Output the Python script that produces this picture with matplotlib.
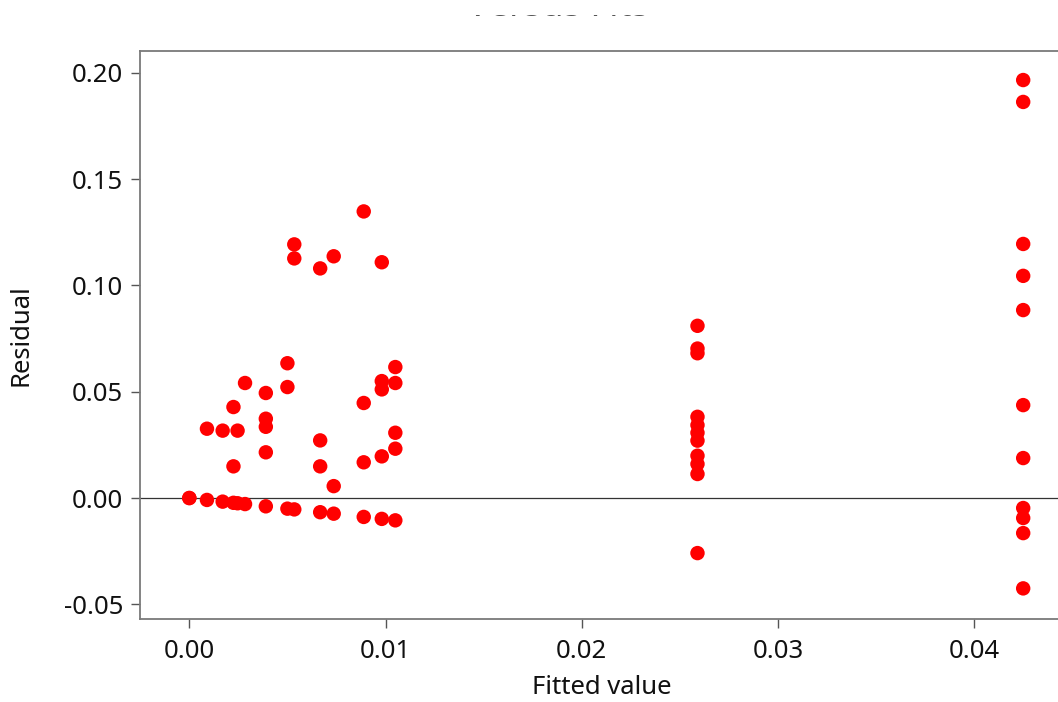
import matplotlib
matplotlib.use("Agg")
import matplotlib.pyplot as plt

plt.rcParams["font.family"] = ["Noto Sans", "DejaVu Sans"]

# Fitted values (one entry per observation) and their residuals
fitted = [
    0.0000, 0.0000,
    0.0009, 0.0009,
    0.0017, 0.0017,
    0.00225, 0.00225, 0.00225,
    0.00246, 0.00246,
    0.00284, 0.00284,
    0.0039, 0.0039, 0.0039, 0.0039, 0.0039,
    0.0050, 0.0050, 0.0050,
    0.00535, 0.00535, 0.00535,
    0.00667, 0.00667, 0.00667, 0.00667,
    0.00736, 0.00736, 0.00736,
    0.00889, 0.00889, 0.00889, 0.00889,
    0.00981, 0.00981, 0.00981, 0.00981, 0.00981,
    0.0105, 0.0105, 0.0105, 0.0105, 0.0105,
    0.0259, 0.0259, 0.0259, 0.0259, 0.0259, 0.0259,
    0.0259, 0.0259, 0.0259, 0.0259, 0.0259,
    0.0425, 0.0425, 0.0425, 0.0425, 0.0425, 0.0425,
    0.0425, 0.0425, 0.0425, 0.0425, 0.0425,
]
residual = [
    0.0000, 0.0000,
    -0.0009, 0.0326,
    -0.0017, 0.0317,
    -0.00225, 0.0428, 0.0149,
    -0.00246, 0.0317,
    -0.00284, 0.0541,
    -0.0039, 0.0494, 0.0373, 0.0335, 0.0215,
    -0.0050, 0.0634, 0.0522,
    -0.00535, 0.1193, 0.1127,
    -0.00667, 0.1080, 0.0271, 0.0149,
    -0.00736, 0.1137, 0.0056,
    -0.00889, 0.1348, 0.0447, 0.0168,
    -0.00981, 0.1109, 0.0550, 0.0511, 0.0196,
    -0.0105, 0.0616, 0.0541, 0.0307, 0.0232,
    0.0810, 0.0703, 0.0681, 0.0382, 0.0343, 0.0307,
    0.0270, 0.0199, 0.0160, 0.0113, -0.0259,
    0.1966, 0.1863, 0.1195, 0.1045, 0.0884, 0.0437,
    0.0188, -0.0047, -0.0094, -0.0165, -0.0425,
]

x_ticks = [0.00, 0.01, 0.02, 0.03, 0.04]
x_tick_labels = ["0.00", "0.01", "0.02", "0.03", "0.04"]
y_ticks = [-0.05, 0.00, 0.05, 0.10, 0.15, 0.20]
y_tick_labels = ["-0.05", "0.00", "0.05", "0.10", "0.15", "0.20"]

W, H = 1058, 702
fig = plt.figure(figsize=(W / 100, H / 100), dpi=100)
left_px, right_px, top_px, bottom_px = 140, 1064, 50.7, 619
ax = fig.add_axes([left_px / W, 1 - bottom_px / H,
                   (right_px - left_px) / W, (bottom_px - top_px) / H])

ax.axhline(0, color="#333333", lw=0.9, zorder=1)
ax.scatter(fitted, residual, s=108, color="#ff0000", edgecolors="none",
           zorder=3)

ax.set_xlim(-0.002513, 0.04458)
ax.set_ylim(-0.0569, 0.2104)
ax.set_xticks(x_ticks)
ax.set_xticklabels(x_tick_labels)
ax.set_yticks(y_ticks)
ax.set_yticklabels(y_tick_labels)

for sp in ax.spines.values():
    sp.set_color("#7a7a7a")
    sp.set_linewidth(1.3)

ax.tick_params(axis="both", direction="out", length=6.2, width=1.0,
               color="#555555", labelsize=18.5, labelcolor="#111111")
ax.tick_params(axis="x", pad=8)
ax.tick_params(axis="y", pad=6)

ax.set_xlabel("Fitted value", fontsize=18.5, color="#111111", labelpad=8)
ax.set_ylabel("Residual", fontsize=18.5, color="#111111", labelpad=22)

# Plot title: only the lowest strip of its glyphs shows below the top margin
fig.text(0.527, 1 - 16.0 / H, "Versus Fits", ha="center",
         va="baseline", fontsize=26, color="#555555", zorder=1)
cover = fig.add_axes([0, 1 - 15.0 / H, 1, 15.0 / H], zorder=20)
cover.set_facecolor("white")
cover.set_xticks([])
cover.set_yticks([])
for sp in cover.spines.values():
    sp.set_visible(False)

fig.savefig("out.png", dpi=100, facecolor="white")
